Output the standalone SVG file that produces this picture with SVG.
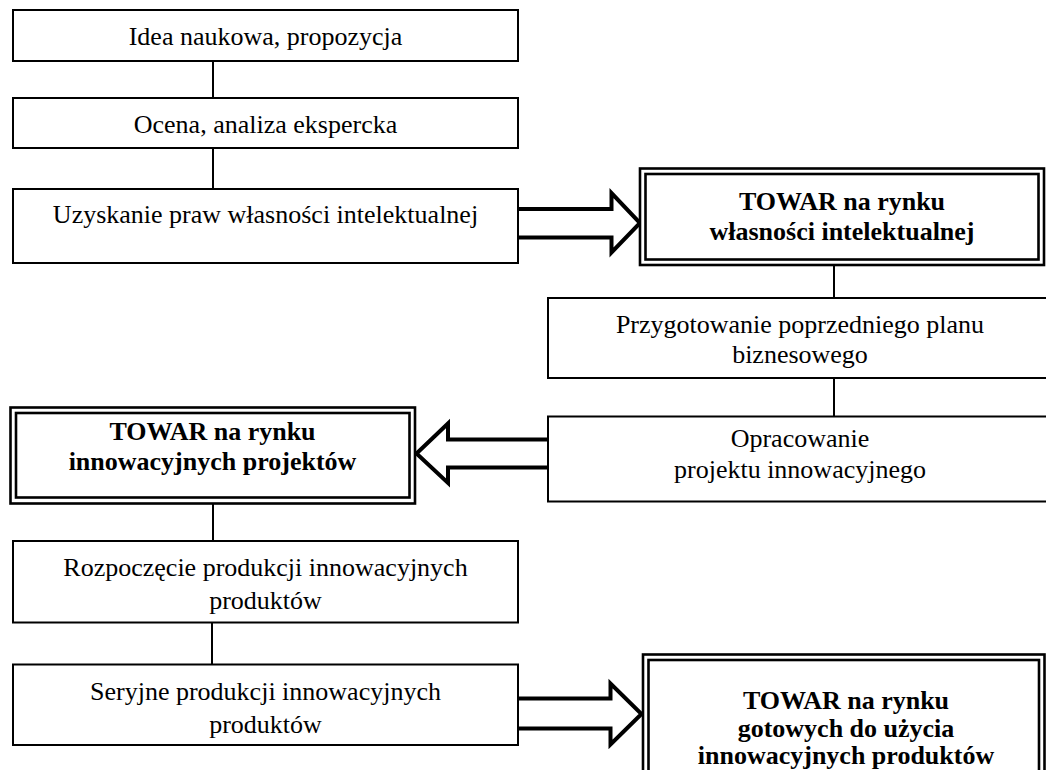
<svg xmlns="http://www.w3.org/2000/svg" width="1046" height="770" viewBox="0 0 1046 770">
  <style>
    .box { fill: #fff; stroke: #000; stroke-width: 2; }
    .dbl { fill: none; stroke: #000; stroke-width: 2.6; }
    .dblbg { fill: #fff; stroke: none; }
    .t { font-family: "Liberation Serif", "Times New Roman", serif; font-size: 26px; fill: #000; text-anchor: middle; }
    .b { font-family: "Liberation Serif", "Times New Roman", serif; font-size: 26px; font-weight: bold; fill: #000; text-anchor: middle; }
    .line { stroke: #000; stroke-width: 2; fill: none; }
    .arrow { fill: #fff; stroke: #000; stroke-width: 4; stroke-linejoin: miter; stroke-miterlimit: 10; }
  </style>
  <rect width="1046" height="770" fill="#fff"/>

  <g id="connectors">
    <line class="line" x1="213" y1="61" x2="213" y2="98"/>
    <line class="line" x1="213" y1="148" x2="213" y2="189"/>
    <line class="line" x1="834" y1="265" x2="834" y2="298"/>
    <line class="line" x1="834" y1="378" x2="834" y2="416.5"/>
    <line class="line" x1="213" y1="503" x2="213" y2="541"/>
    <line class="line" x1="212" y1="622" x2="212" y2="664.5"/>
    <path class="arrow" d="M518,209 H611.5 V193 L640,223 L611.5,252.5 V237.5 H518"/>
    <path class="arrow" d="M548,439.5 H448 V423.5 L416.5,453.5 L448,483 V467.5 H548"/>
    <path class="arrow" d="M518,698.5 H610.5 V683.5 L641.5,714 L610.5,744.5 V728.5 H518"/>
  </g>

  <g id="n1">
    <rect class="box" x="13" y="10" width="505" height="51"/>
    <text class="t" x="265.5" y="45">Idea naukowa, propozycja</text>
  </g>
  <g id="n2">
    <rect class="box" x="13" y="98" width="505" height="50"/>
    <text class="t" x="265.5" y="133">Ocena, analiza ekspercka</text>
  </g>
  <g id="n3">
    <rect class="box" x="13" y="189" width="505" height="74"/>
    <text class="t" x="265.5" y="223">Uzyskanie praw własności intelektualnej</text>
  </g>
  <g id="m1">
    <rect class="dblbg" x="640" y="168.5" width="404" height="96.5"/>
    <rect class="dbl" x="640" y="168.5" width="404" height="96.5"/>
    <rect class="dbl" x="645.5" y="174" width="393" height="85.5"/>
    <text class="b" x="842" y="210">TOWAR na rynku</text>
    <text class="b" x="842" y="240">własności intelektualnej</text>
  </g>
  <g id="n4">
    <rect class="box" x="548" y="298" width="504" height="80"/>
    <text class="t" x="800" y="332.5">Przygotowanie poprzedniego planu</text>
    <text class="t" x="800" y="363">biznesowego</text>
  </g>
  <g id="n5">
    <rect class="box" x="548" y="416.5" width="504" height="85"/>
    <text class="t" x="800" y="447">Opracowanie</text>
    <text class="t" x="800" y="478">projektu innowacyjnego</text>
  </g>
  <g id="m2">
    <rect class="dblbg" x="10.5" y="407.5" width="404.5" height="96"/>
    <rect class="dbl" x="10.5" y="407.5" width="404.5" height="96"/>
    <rect class="dbl" x="16" y="413" width="393.5" height="84.5"/>
    <text class="b" x="212.5" y="440">TOWAR na rynku</text>
    <text class="b" x="212.5" y="470">innowacyjnych projektów</text>
  </g>
  <g id="n6">
    <rect class="box" x="13" y="541" width="505" height="81.5"/>
    <text class="t" x="265.5" y="576">Rozpoczęcie produkcji innowacyjnych</text>
    <text class="t" x="265.5" y="609">produktów</text>
  </g>
  <g id="n7">
    <rect class="box" x="13" y="664.5" width="505" height="80.5"/>
    <text class="t" x="265.5" y="700">Seryjne produkcji innowacyjnych</text>
    <text class="t" x="265.5" y="733">produktów</text>
  </g>
  <g id="m3">
    <rect class="dblbg" x="643" y="654.5" width="401.5" height="130"/>
    <rect class="dbl" x="643" y="654.5" width="401.5" height="130"/>
    <rect class="dbl" x="648.5" y="660" width="390.5" height="120"/>
    <text class="b" x="846" y="709">TOWAR na rynku</text>
    <text class="b" x="846" y="737">gotowych do użycia</text>
    <text class="b" x="846" y="763.5">innowacyjnych produktów</text>
  </g>
</svg>
